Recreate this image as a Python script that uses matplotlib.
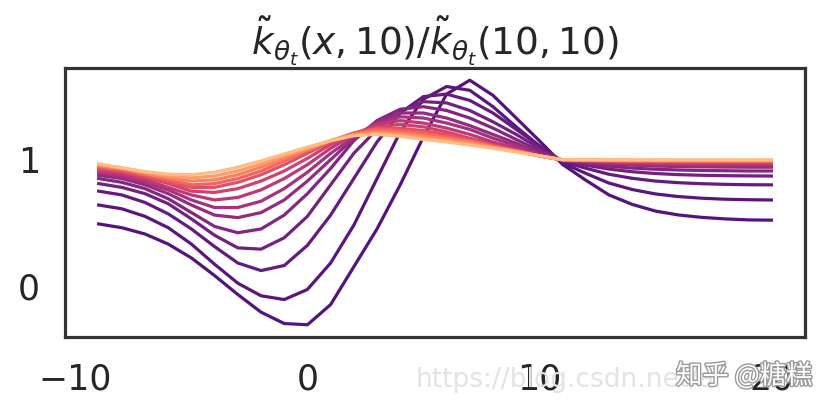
import numpy as np
import matplotlib.pyplot as plt
import matplotlib.patheffects as pe

# x positions of the samples
xs = list(range(-9, 21))

# curves from the darkest (earliest t) to the lightest (latest t)
curve_00 = [0.49, 0.46, 0.41, 0.33, 0.22, 0.08, -0.07, -0.21, -0.30, -0.31,
            -0.15, 0.15, 0.45, 0.80, 1.18, 1.52, 1.63, 1.51, 1.33, 1.15,
            0.962, 0.837, 0.72, 0.645, 0.592, 0.561, 0.542, 0.53, 0.522, 0.52]
curve_01 = [0.64, 0.61, 0.55, 0.46, 0.33, 0.17, 0.02, -0.08, -0.11, -0.03,
            0.18, 0.48, 0.85, 1.22, 1.48, 1.58, 1.55, 1.42, 1.26, 1.11,
            0.974, 0.891, 0.814, 0.763, 0.728, 0.707, 0.694, 0.686, 0.682, 0.68]
curve_02 = [0.75, 0.72, 0.66, 0.57, 0.45, 0.31, 0.18, 0.12, 0.16, 0.32,
            0.56, 0.85, 1.14, 1.37, 1.50, 1.52, 1.47, 1.37, 1.24, 1.11,
            0.984, 0.932, 0.884, 0.852, 0.83, 0.817, 0.809, 0.804, 0.801, 0.80]
curve_03 = [0.81, 0.78, 0.73, 0.65, 0.53, 0.40, 0.30, 0.29, 0.38, 0.55,
            0.80, 1.05, 1.24, 1.38, 1.46, 1.45, 1.39, 1.30, 1.20, 1.09,
            0.99, 0.956, 0.925, 0.904, 0.89, 0.881, 0.876, 0.873, 0.871, 0.87]
curve_04 = [0.85, 0.82, 0.77, 0.69, 0.58, 0.47, 0.42, 0.45, 0.56, 0.73,
            0.93, 1.15, 1.31, 1.40, 1.42, 1.39, 1.33, 1.25, 1.16, 1.07,
            0.993, 0.969, 0.948, 0.933, 0.924, 0.918, 0.914, 0.912, 0.91, 0.91]
curve_05 = [0.875, 0.85, 0.80, 0.73, 0.64, 0.56, 0.54, 0.58, 0.68, 0.83,
            1.00, 1.17, 1.30, 1.37, 1.37, 1.33, 1.27, 1.20, 1.13, 1.05,
            0.995, 0.98, 0.965, 0.956, 0.949, 0.945, 0.943, 0.941, 0.94, 0.94]
curve_06 = [0.895, 0.87, 0.82, 0.76, 0.68, 0.62, 0.62, 0.67, 0.77, 0.90,
            1.05, 1.18, 1.29, 1.34, 1.33, 1.29, 1.24, 1.17, 1.11, 1.04,
            0.996, 0.985, 0.974, 0.967, 0.962, 0.959, 0.957, 0.956, 0.955, 0.955]
curve_07 = [0.91, 0.885, 0.84, 0.78, 0.72, 0.68, 0.70, 0.76, 0.85, 0.96,
            1.09, 1.20, 1.28, 1.31, 1.29, 1.25, 1.20, 1.14, 1.09, 1.03,
            0.997, 0.989, 0.981, 0.976, 0.972, 0.97, 0.968, 0.967, 0.967, 0.967]
curve_08 = [0.925, 0.90, 0.86, 0.81, 0.75, 0.74, 0.77, 0.83, 0.91, 1.01,
            1.12, 1.21, 1.26, 1.28, 1.26, 1.22, 1.17, 1.12, 1.07, 1.03,
            0.998, 0.992, 0.986, 0.982, 0.98, 0.978, 0.977, 0.976, 0.976, 0.976]
curve_09 = [0.935, 0.91, 0.87, 0.82, 0.78, 0.78, 0.82, 0.88, 0.96, 1.05,
            1.14, 1.21, 1.25, 1.25, 1.23, 1.20, 1.16, 1.11, 1.07, 1.03,
            0.998, 0.994, 0.99, 0.987, 0.985, 0.984, 0.983, 0.983, 0.983, 0.983]
curve_10 = [0.945, 0.92, 0.88, 0.84, 0.80, 0.81, 0.85, 0.91, 0.99, 1.07,
            1.15, 1.21, 1.24, 1.23, 1.21, 1.18, 1.15, 1.11, 1.07, 1.03,
            0.999, 0.996, 0.993, 0.991, 0.99, 0.989, 0.988, 0.988, 0.988, 0.988]
curve_11 = [0.952, 0.93, 0.89, 0.855, 0.83, 0.84, 0.88, 0.94, 1.01, 1.08,
            1.15, 1.20, 1.225, 1.21, 1.19, 1.165, 1.14, 1.10, 1.07, 1.03,
            0.999, 0.997, 0.995, 0.994, 0.993, 0.992, 0.992, 0.992, 0.992, 0.992]
curve_12 = [0.96, 0.935, 0.90, 0.87, 0.855, 0.87, 0.91, 0.965, 1.03, 1.09,
            1.15, 1.195, 1.21, 1.195, 1.175, 1.15, 1.125, 1.095, 1.065, 1.03,
            1.0, 0.998, 0.997, 0.996, 0.995, 0.995, 0.995, 0.995, 0.995, 0.995]
curve_13 = [0.967, 0.935, 0.905, 0.885, 0.88, 0.90, 0.94, 0.99, 1.045, 1.10,
            1.15, 1.19, 1.20, 1.185, 1.16, 1.14, 1.115, 1.09, 1.06, 1.03,
            1.0, 0.999, 0.998, 0.998, 0.998, 0.998, 0.998, 0.998, 0.998, 0.998]

curves = [curve_00, curve_01, curve_02, curve_03, curve_04, curve_05, curve_06,
          curve_07, curve_08, curve_09, curve_10, curve_11, curve_12, curve_13]

x_ticks = [-10, 0, 10, 20]
y_ticks = [0, 1]
title = r'$\tilde{k}_{\theta_t}(x, 10)/\tilde{k}_{\theta_t}(10, 10)$'

fig = plt.figure(figsize=(8.17, 4.11), dpi=100)
ax = fig.add_axes([65 / 817, 74 / 411, 740 / 817, 269 / 411])

# dark purple for the early curves, bunching into orange for the late ones
t = np.linspace(0, 1, len(curves))
colors = plt.cm.magma(0.26 + 0.6 * t ** 1.4)
for ys, c in zip(curves, colors):
    ax.plot(xs, ys, color=c, lw=2.3)

ax.set_xticks(x_ticks)
ax.set_yticks(y_ticks)
ax.tick_params(length=0, labelsize=25, colors='#262626')
ax.tick_params(axis='x', pad=18)
ax.tick_params(axis='y', pad=18)
for s in ax.spines.values():
    s.set_color('#333333')
    s.set_linewidth(2.3)
ax.set_title(title, fontsize=27, color='#262626', pad=5)

# watermarks in the bottom right corner
fig.text(416 / 817, 1 - 380 / 411, 'https://blog.csdn.net/a', fontsize=19,
         color='#e3e3e3', va='center', ha='left')
fig.text(676 / 817, 1 - 376 / 411, '知乎 @糖糕', fontsize=19, color='white',
         va='center', ha='left', family=['Noto Sans CJK SC', 'DejaVu Sans'],
         path_effects=[pe.withStroke(linewidth=2, foreground='#9a9a9a')])

fig.savefig('out.png', dpi=100)
plt.close(fig)
